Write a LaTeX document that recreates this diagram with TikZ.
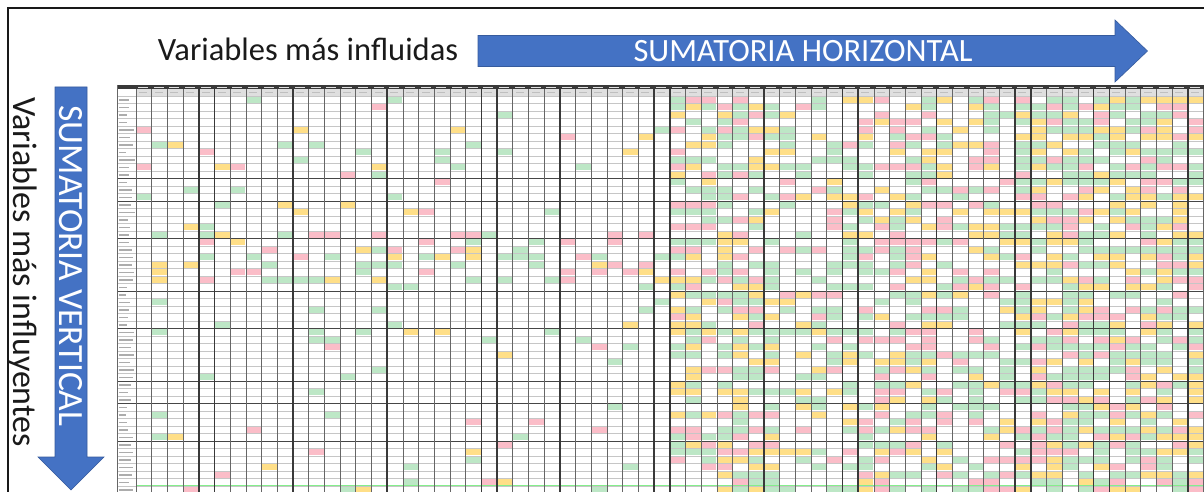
\documentclass[tikz,border=0pt]{standalone}
\usepackage{fontspec}
\setmainfont{Carlito}
\definecolor{arrowblue}{HTML}{4472C4}
\definecolor{cellg}{HTML}{BDE7C6}
\definecolor{celly}{HTML}{FFDF88}
\definecolor{cellr}{HTML}{FBBDC8}
\definecolor{txt}{HTML}{1A1A1A}
\tikzset{
  lbl/.style={text=txt, inner sep=0pt, font=\fontsize{32.5}{36}\selectfont},
  arrowtxt/.style={text=white, inner sep=0pt, font=\fontsize{32.5}{36}\selectfont},
  blockarrow/.style={fill=arrowblue, draw=arrowblue!80!black, line width=0.6pt},
  thinv/.style={draw=gray!80!black, line width=0.8pt},
  thickv/.style={draw=gray!45!black, line width=1.5pt},
  thinh/.style={draw=gray!45, line width=0.5pt},
  thickh/.style={draw=gray!55!black, line width=0.9pt},
  frameline/.style={draw=black!90, line width=2.6pt}
}
\begin{document}
\begin{tikzpicture}[x=1pt,y=-1pt]
\useasboundingbox (0,0) rectangle (1204,492);
\fill[white] (0,0) rectangle (1204,492);
\begin{scope}
\clip (0,0) rectangle (1204,492);
% ---------- spreadsheet grid ----------
\pgfmathsetseed{4711}
% header bands
\fill[gray!45!black] (117,85) rectangle (1204,89.5);
\fill[gray!25] (136,89.5) rectangle (1204,96);
\foreach \c in {0,...,67}{
  \pgfmathsetmacro{\hx}{136+15.7*\c}
  \fill[white!75!gray] (\hx+2,86.6) rectangle (\hx+12,87.6);
  \fill[gray!50] (\hx+3,92) rectangle (\hx+11,93);
}
% cells
\foreach \c in {0,...,67}{
  \pgfmathsetmacro{\pc}{\c<34 ? 0.06 : (\c<41 ? 0.68 : (\c<45 ? 0.42 : (\c<51 ? 0.58 : (\c<56 ? 0.5 : 0.74))))}
  \pgfmathsetmacro{\xa}{136+15.7*\c+0.5}
  \pgfmathsetmacro{\xb}{136+15.7*(\c+1)-0.5}
  \foreach \r in {0,...,52}{
    \pgfmathsetmacro{\u}{rnd}
    \pgfmathsetmacro{\v}{rnd}
    \pgfmathsetmacro{\p}{\pc + (\c<34)*(\r>=18)*(\r<=24)*0.22 + (\c<34)*(\r>=6)*(\r<=9)*0.08}
    \pgfmathtruncatemacro{\k}{(\u<\p)*(1+(\v>0.45)+(\v>0.73))}
    \ifnum\k>0
      \pgfmathsetmacro{\ya}{96+7.5*\r+0.9}
      \pgfmathsetmacro{\yb}{96+7.5*(\r+1)-0.9}
      \ifcase\k\or
        \fill[cellg] (\xa,\ya) rectangle (\xb,\yb);
      \or
        \fill[celly] (\xa,\ya) rectangle (\xb,\yb);
      \or
        \fill[cellr] (\xa,\ya) rectangle (\xb,\yb);
      \fi
    \fi
  }
}
% bottom green strip
\fill[cellg!70!green] (136,484.5) rectangle (1204,487);
% row labels
\foreach \r in {0,...,52}{
  \pgfmathsetmacro{\len}{7+9*rnd}
  \pgfmathsetmacro{\ly}{96+7.5*\r+3.2}
  \fill[gray!65] (119,\ly) rectangle (119+\len,\ly+1.4);
}
% horizontal lines
\foreach \r in {0,...,53}{
  \pgfmathsetmacro{\hy}{96+7.5*\r}
  \draw[thinh] (117,\hy) -- (1204,\hy);
}
\foreach \r in {11,14,19,26,31,38,41,46}{
  \pgfmathsetmacro{\hy}{96+7.5*\r}
  \draw[thickh] (117,\hy) -- (1204,\hy);
}
% vertical lines
\foreach \k in {0,...,68}{
  \pgfmathsetmacro{\vx}{136+15.7*\k}
  \draw[thinv] (\vx,89.5) -- (\vx,492);
}
\foreach \k in {4,5,10,16,22,23,27,33,34,40,45,46,51,56,57,61,62,67}{
  \pgfmathsetmacro{\vx}{136+15.7*\k}
  \draw[thickv] (\vx,89.5) -- (\vx,492);
}
\draw[thinv] (117,85) -- (117,492);
% ---------- frame ----------
\draw[frameline] (8,500) -- (8,8) -- (1210,8);
\end{scope}
% ---------- arrows ----------
\fill[blockarrow] (478,35.5) -- (1115,35.5) -- (1115,20) -- (1147.5,51) -- (1115,82) -- (1115,66.5) -- (478,66.5) -- cycle;
\fill[blockarrow] (55,87) -- (87,87) -- (87,457) -- (104,457) -- (71,490) -- (38,457) -- (55,457) -- cycle;
% ---------- texts ----------
\node[lbl, anchor=base] (hlabel) at (308,61) {Variables más influidas};
\node[arrowtxt] (htitle) at (803,51) {SUMATORIA HORIZONTAL};
\node[lbl, rotate=-90, anchor=base, font=\fontsize{34}{38}\selectfont] (vlabel) at (13,272) {Variables más influyentes};
\node[arrowtxt, rotate=-90, font=\fontsize{35.5}{38}\selectfont] (vtitle) at (71,266) {SUMATORIA VERTICAL};
\end{tikzpicture}
\end{document}
